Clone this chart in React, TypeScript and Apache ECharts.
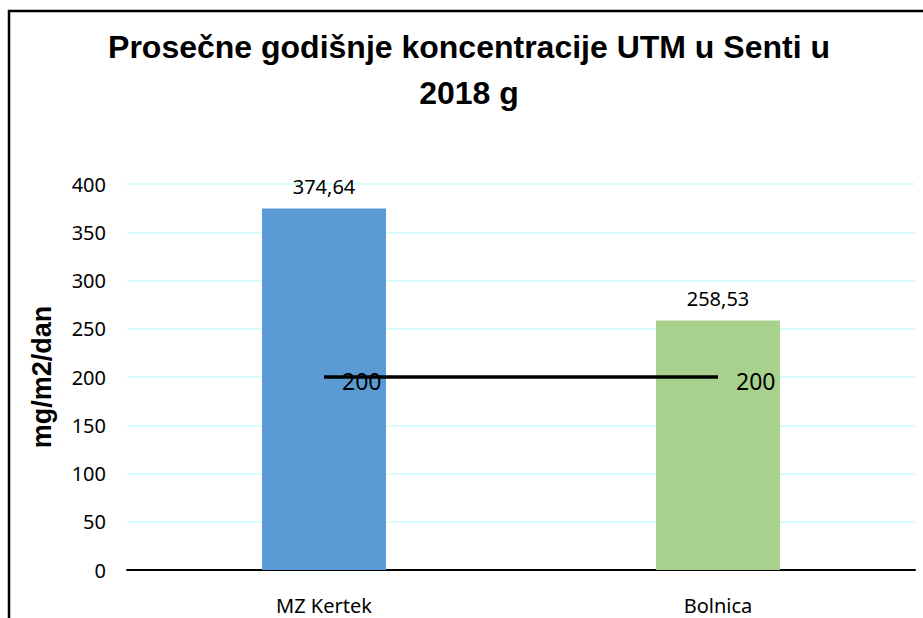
import React, { useEffect, useRef } from "react";
import * as echarts from "echarts";

const categories = ["MZ Kertek", "Bolnica"];
const values = [374.64, 258.53];
const limitValues = [200, 200];
const barColors = ["#5B9BD5", "#A9D18E"];
const titleText = "Prosečne godišnje koncentracije UTM u Senti u\n2018 g";
const yAxisName = "mg/m2/dan";

export default function App() {
  const ref = useRef<HTMLDivElement>(null);
  useEffect(() => {
    if (!ref.current) return;
    const chart = echarts.init(ref.current, undefined, { renderer: "svg" });
    const font = "'Noto Sans', sans-serif";
    chart.setOption({
      animation: false,
      backgroundColor: "#fff",
      graphic: [
        {
          type: "rect",
          shape: { x: 9, y: 11, width: 960, height: 660 },
          style: { fill: "none", stroke: "#000", lineWidth: 2.5 },
          silent: true,
        },
        {
          type: "text",
          x: 469,
          y: 24,
          style: {
            text: titleText,
            textAlign: "center",
            textVerticalAlign: "top",
            fontSize: 32,
            fontWeight: "bold",
            fontFamily: "'Liberation Sans', Arial, sans-serif",
            lineHeight: 46,
            fill: "#000",
          },
        },
      ],
      grid: { left: 127, right: 8, top: 184, bottom: 48, containLabel: false },
      xAxis: {
        type: "category",
        data: categories,
        axisLine: { lineStyle: { color: "#000", width: 2 } },
        axisTick: { show: false },
        axisLabel: { color: "#000", fontSize: 20, fontFamily: font, margin: 25 },
      },
      yAxis: {
        type: "value",
        min: 0,
        max: 400,
        interval: 50,
        name: yAxisName,
        nameLocation: "middle",
        nameGap: 72,
        nameTextStyle: {
          fontSize: 27,
          fontWeight: "bold",
          fontFamily: "'Liberation Sans', Arial, sans-serif",
          color: "#000",
        },
        axisLine: { show: false },
        axisTick: { show: false },
        axisLabel: { color: "#000", fontSize: 20, fontFamily: font, margin: 21 },
        splitLine: { lineStyle: { color: "#c9fbfb", width: 1.5 } },
      },
      series: [
        {
          type: "bar",
          barWidth: 124,
          data: values.map((v, i) => ({ value: v, itemStyle: { color: barColors[i] } })),
          label: {
            show: true,
            position: "top",
            distance: 12,
            color: "#000",
            fontSize: 20,
            fontFamily: font,
            formatter: (p: any) => String(p.value.toFixed(2)).replace(".", ","),
          },
          z: 2,
        },
        {
          type: "line",
          data: limitValues,
          symbol: "circle",
          symbolSize: 0.1,
          itemStyle: { color: "#000" },
          lineStyle: { color: "#000", width: 3.5 },
          label: {
            show: true,
            position: "right",
            distance: 18,
            offset: [0, 4],
            color: "#000",
            fontSize: 23,
            fontFamily: font,
          },
          z: 3,
        },
      ],
    });
    return () => chart.dispose();
  }, []);
  return (
    <div
      ref={ref}
      style={{ position: "fixed", left: 0, top: 0, width: 923, height: 618 }}
    />
  );
}
